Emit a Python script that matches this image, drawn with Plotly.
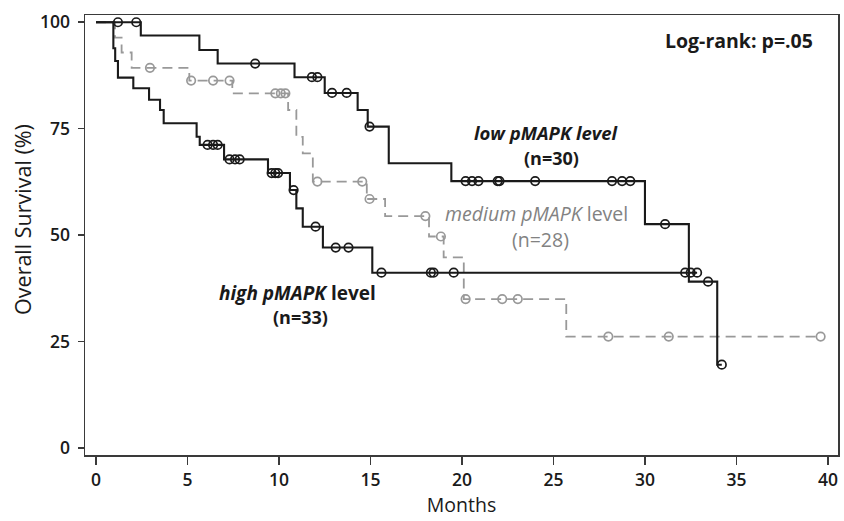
import plotly.graph_objects as go

# ---- data ----
# step times (months) and survival (%) after each step
low_t = [0, 2.45, 5.65, 6.65, 10.85, 12.5, 14.3, 14.85, 16.0, 19.42, 30.0, 32.4, 33.95]
low_s = [100, 96.9, 93.5, 90.3, 87.1, 83.4, 79.4, 75.5, 66.9, 62.7, 52.6, 39.1, 19.6]
low_end = 34.2
low_cens = [1.2, 2.2, 8.7, 11.8, 12.1, 12.9, 13.7, 14.95, 20.2, 20.55, 20.9, 21.95, 22.05,
            24.0, 28.2, 28.75, 29.2, 31.1, 33.45, 34.2]

med_t = [0, 1.04, 1.4, 1.95, 5.1, 7.45, 10.5, 10.95, 11.3, 11.85, 14.8, 15.8, 18.2, 19.0, 20.1, 25.7]
med_s = [100, 96.4, 92.9, 89.3, 86.3, 83.3, 79.4, 73.1, 69.2, 62.6, 58.5, 54.5, 49.7, 44.8, 35.0, 26.2]
med_end = 39.6
med_cens = [2.95, 5.2, 6.4, 7.3, 9.8, 10.1, 10.35, 12.1, 14.55, 14.95, 18.0, 18.85,
            20.2, 22.2, 23.05, 28.0, 31.3, 39.6]

high_t = [0, 0.95, 1.05, 1.2, 2.04, 2.9, 3.5, 3.7, 5.5, 5.67, 7.0, 9.4, 10.6, 10.95, 11.3, 12.4, 15.1]
high_s = [100, 93.9, 90.9, 87.0, 84.5, 81.8, 79.4, 76.3, 73.1, 71.2, 67.8, 64.6, 60.6, 56.3, 52.0, 47.1, 41.2]
high_end = 32.85
high_cens = [6.1, 6.4, 6.65, 7.3, 7.6, 7.85, 9.6, 9.8, 9.95, 10.8, 12.0, 13.1, 13.8,
             15.6, 18.3, 18.45, 19.55, 32.2, 32.5, 32.85]

x_ticks = [0, 5, 10, 15, 20, 25, 30, 35, 40]
y_ticks = [0, 25, 50, 75, 100]

BLACK = "#1a1a1a"
GRAY = "#999999"
TXTGRAY = "#828282"
FONT = "Open Sans"


def surv_at(ts, ss, t):
    v = ss[0]
    for a, b in zip(ts, ss):
        if a <= t:
            v = b
    return v


fig = go.Figure()


def add_curve(ts, ss, end, cens, color, dash, width):
    fig.add_trace(go.Scatter(
        x=ts + [end], y=ss + [ss[-1]], mode="lines",
        line=dict(color=color, width=width, dash=dash, shape="hv"),
        showlegend=False, hoverinfo="skip"))
    fig.add_trace(go.Scatter(
        x=cens, y=[surv_at(ts, ss, c) for c in cens], mode="markers",
        marker=dict(symbol="circle-open", size=8.5, color=color, line=dict(width=1.7, color=color)),
        showlegend=False, hoverinfo="skip"))


add_curve(med_t, med_s, med_end, med_cens, GRAY, "10px,6px", 1.8)
add_curve(low_t, low_s, low_end, low_cens, BLACK, "solid", 2.1)
add_curve(high_t, high_s, high_end, high_cens, BLACK, "solid", 2.1)

ann = [
    dict(x=39.3, y=95.8, text="<b>Log-rank: p=.05</b>", xanchor="right",
         font=dict(size=19.5, color=BLACK)),
    dict(x=24.6, y=74.0, text="<b><i>low pMAPK level</i></b>", font=dict(size=18.5, color=BLACK)),
    dict(x=24.9, y=68.1, text="<b>(n=30)</b>", font=dict(size=18, color=BLACK)),
    dict(x=24.1, y=55.0, text="<i>medium pMAPK</i> level", font=dict(size=19.5, color=TXTGRAY)),
    dict(x=24.3, y=48.9, text="(n=28)", font=dict(size=19.5, color=TXTGRAY)),
    dict(x=11.0, y=36.5, text="<b><i>high pMAPK</i> level</b>", font=dict(size=19, color=BLACK)),
    dict(x=11.2, y=30.9, text="<b>(n=33)</b>", font=dict(size=18, color=BLACK)),
]
for a in ann:
    a.update(xref="x", yref="y", showarrow=False)
    a.setdefault("xanchor", "center")
    a["font"]["family"] = FONT
# y-axis title placed as rotated text
ann.append(dict(xref="paper", yref="paper", x=-0.084, y=0.536, text="Overall Survival (%)",
                textangle=-90, showarrow=False, xanchor="center", yanchor="middle",
                font=dict(size=21.5, family=FONT, color=BLACK)))
fig.update_layout(annotations=ann)

fig.update_layout(
    width=844, height=521,
    margin=dict(l=85, r=4, t=15, b=66),
    paper_bgcolor="white", plot_bgcolor="white",
    font=dict(family=FONT, color=BLACK),
    xaxis=dict(range=[-0.6, 40.55], tickvals=x_ticks, ticktext=[str(v) for v in x_ticks],
               showgrid=False, zeroline=False, showline=True, mirror=True,
               linecolor="#3a3a3a", linewidth=1.5, ticks="outside", ticklen=8,
               tickwidth=1.5, tickcolor="#3a3a3a", ticklabeloverflow="allow",
               tickfont=dict(size=17.5, family=FONT, color=BLACK, weight=600),
               title=dict(text="Months", font=dict(size=19.5, family=FONT, color=BLACK), standoff=9)),
    yaxis=dict(range=[-1.6, 101.7], tickvals=y_ticks, ticktext=[str(v) for v in y_ticks],
               showgrid=False, zeroline=False, showline=True, mirror=True,
               linecolor="#3a3a3a", linewidth=1.5, ticks="outside", ticklen=6,
               tickwidth=1.5, tickcolor="#3a3a3a", ticklabelstandoff=4,
               tickfont=dict(size=17.5, family=FONT, color=BLACK, weight=600)),
)

fig.write_html("out.html", config={"displayModeBar": False, "staticPlot": True},
               post_script="document.body.style.margin='0px';document.body.style.overflow='hidden';")
